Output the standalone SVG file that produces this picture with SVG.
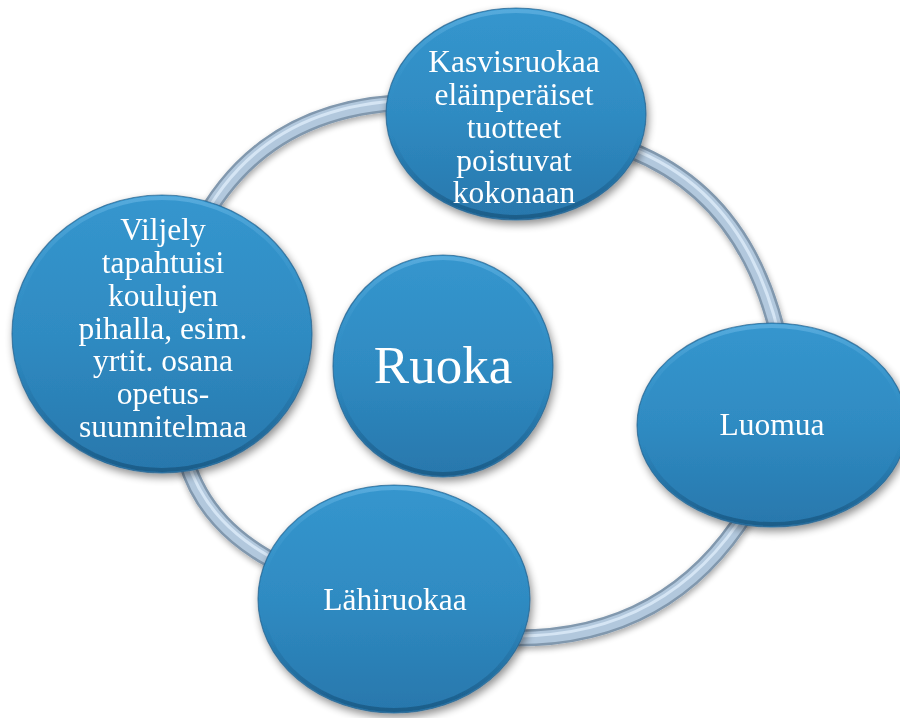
<svg xmlns="http://www.w3.org/2000/svg" width="900" height="718" viewBox="0 0 900 718">
  <defs>
    <linearGradient id="nodeGrad" x1="0" y1="0" x2="0" y2="1">
      <stop offset="0" stop-color="#3596ce"/>
      <stop offset="0.5" stop-color="#2f8bc2"/>
      <stop offset="1" stop-color="#2877ac"/>
    </linearGradient>
    <linearGradient id="rimGrad" x1="0" y1="0" x2="0" y2="1">
      <stop offset="0" stop-color="#6bb8e6" stop-opacity="0.6"/>
      <stop offset="0.45" stop-color="#3a97cc" stop-opacity="0"/>
      <stop offset="0.6" stop-color="#1f6a9c" stop-opacity="0"/>
      <stop offset="1" stop-color="#1b5a85" stop-opacity="0.9"/>
    </linearGradient>
    <filter id="shadow" x="-20%" y="-20%" width="140%" height="140%">
      <feGaussianBlur in="SourceAlpha" stdDeviation="4"/>
      <feOffset dx="2" dy="4" result="b"/>
      <feComponentTransfer><feFuncA type="linear" slope="0.45"/></feComponentTransfer>
      <feMerge><feMergeNode/><feMergeNode in="SourceGraphic"/></feMerge>
    </filter>
    <filter id="ringShadow" x="-20%" y="-20%" width="140%" height="140%">
      <feGaussianBlur in="SourceAlpha" stdDeviation="3"/>
      <feOffset dx="1" dy="3"/>
      <feComponentTransfer><feFuncA type="linear" slope="0.35"/></feComponentTransfer>
      <feMerge><feMergeNode/><feMergeNode in="SourceGraphic"/></feMerge>
    </filter>
  </defs>
  <style>
    .base { fill: url(#nodeGrad); stroke: #22608b; stroke-opacity: 0.7; stroke-width: 1.2; }
    .rim { fill: none; stroke: url(#rimGrad); stroke-width: 4; }
    .node { filter: url(#shadow); }
    .label { font-family: "Liberation Serif", "Times New Roman", serif; font-size: 31.5px; fill: #ffffff; text-anchor: middle; }
    .big { font-size: 53px; }
    .ring-dark { fill: none; stroke: #8198ae; stroke-width: 17; }
    .ring-mid { fill: none; stroke: #b2c8dd; stroke-width: 12; }
    .ring-hi { fill: none; stroke: #d5e5f4; stroke-width: 3; }
  </style>
  <rect width="900" height="718" fill="#ffffff"/>

  <g id="connectors" filter="url(#ringShadow)">
    <path class="ring-dark" d="M 204,218 Q 265,112 395,103"/>
    <path class="ring-dark" d="M 630,150 Q 745,195 778,335"/>
    <path class="ring-dark" d="M 748,510 Q 668,640 512,638"/>
    <path class="ring-dark" d="M 186,460 Q 205,525 275,562"/>
    <path class="ring-mid" d="M 204,218 Q 265,112 395,103"/>
    <path class="ring-mid" d="M 630,150 Q 745,195 778,335"/>
    <path class="ring-mid" d="M 748,510 Q 668,640 512,638"/>
    <path class="ring-mid" d="M 186,460 Q 205,525 275,562"/>
    <path class="ring-hi" d="M 204,216 Q 264,110 395,101"/>
    <path class="ring-hi" d="M 630,148 Q 746,193 779,335"/>
    <path class="ring-hi" d="M 748,508 Q 667,638 512,636"/>
    <path class="ring-hi" d="M 187,459 Q 206,523 276,560"/>
  </g>

  <g id="node-kasvisruokaa" class="node">
    <ellipse class="base" cx="516" cy="114" rx="130" ry="106"/>
    <ellipse class="rim" cx="516" cy="114" rx="127" ry="103"/>
    <text class="label" x="514" y="72">Kasvisruokaa</text>
    <text class="label" x="514" y="105">eläinperäiset</text>
    <text class="label" x="514" y="138">tuotteet</text>
    <text class="label" x="514" y="171">poistuvat</text>
    <text class="label" x="514" y="203">kokonaan</text>
  </g>

  <g id="node-viljely" class="node">
    <ellipse class="base" cx="162" cy="334" rx="150" ry="139"/>
    <ellipse class="rim" cx="162" cy="334" rx="147" ry="136"/>
    <text class="label" x="163" y="240">Viljely</text>
    <text class="label" x="163" y="273">tapahtuisi</text>
    <text class="label" x="163" y="306">koulujen</text>
    <text class="label" x="163" y="339">pihalla, esim.</text>
    <text class="label" x="163" y="371">yrtit. osana</text>
    <text class="label" x="163" y="404">opetus-</text>
    <text class="label" x="163" y="437">suunnitelmaa</text>
  </g>

  <g id="node-ruoka" class="node">
    <ellipse class="base" cx="443" cy="366" rx="110" ry="111"/>
    <ellipse class="rim" cx="443" cy="366" rx="107" ry="108"/>
    <text class="label big" x="443" y="383">Ruoka</text>
  </g>

  <g id="node-luomua" class="node">
    <ellipse class="base" cx="772" cy="425" rx="135" ry="102"/>
    <ellipse class="rim" cx="772" cy="425" rx="132" ry="99"/>
    <text class="label" x="772" y="435">Luomua</text>
  </g>

  <g id="node-lahiruokaa" class="node">
    <ellipse class="base" cx="394" cy="599" rx="136" ry="114"/>
    <ellipse class="rim" cx="394" cy="599" rx="133" ry="111"/>
    <text class="label" x="395" y="610">Lähiruokaa</text>
  </g>
</svg>
